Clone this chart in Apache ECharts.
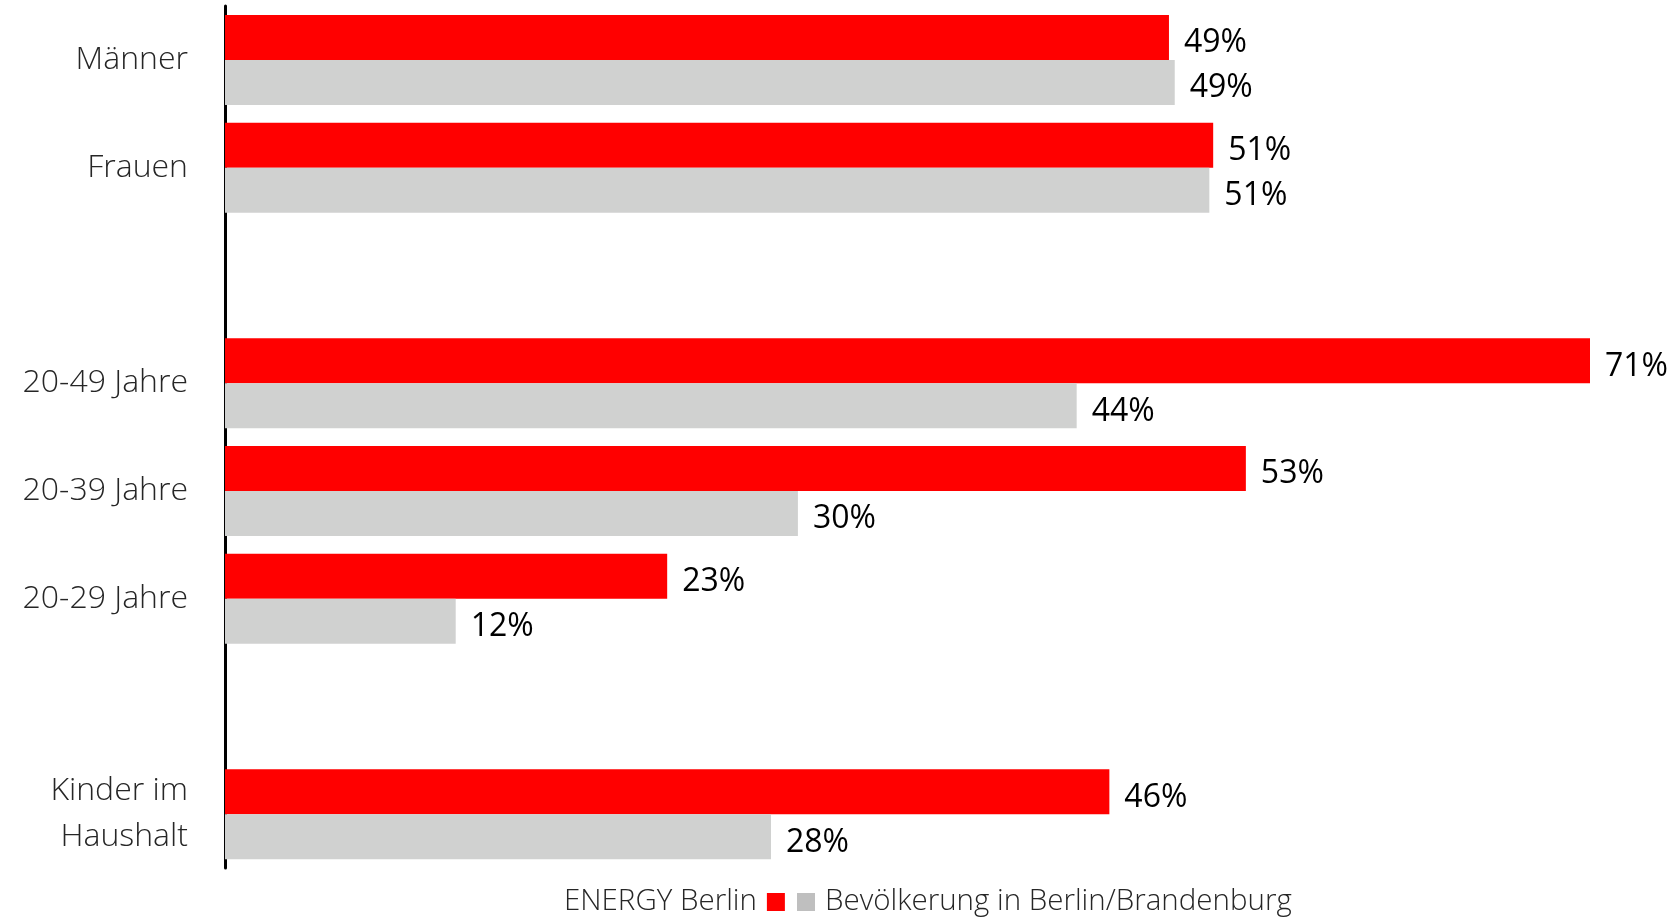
<!DOCTYPE html>
<html>
<head>
<meta charset="utf-8">
<script src="https://cdn.jsdelivr.net/npm/echarts@6/dist/echarts.min.js"></script>
<style>
  html, body { margin: 0; padding: 0; background: #fff; }
  #chart { width: 1670px; height: 918px; }
</style>
</head>
<body>
<div id="chart"></div>
<script>
// Kategorien (leere Einträge = Abstand zwischen Gruppen)
const categories = ['Männer', 'Frauen', '', '20-49 Jahre', '20-39 Jahre', '20-29 Jahre', '', 'Kinder im\nHaushalt'];
const energyBerlin = [49.1, 51.4, null, 71, 53.1, 23, null, 46];
const bevoelkerung = [49.4, 51.2, null, 44.3, 29.8, 12, null, 28.4];

const nameEnergy = 'ENERGY Berlin';
const nameBevoelkerung = 'Bevölkerung in Berlin/Brandenburg';

const fontFamily = '"Open Sans", "Noto Sans", sans-serif';

const chart = echarts.init(document.getElementById('chart'));

const valueLabel = {
  show: true,
  position: 'right',
  distance: 15,
  offset: [0, 6],
  formatter: p => Math.round(p.value) + '%',
  color: '#000',
  fontSize: 32,
  fontFamily: fontFamily
};

const legendText = { fontSize: 29.5, color: '#262626', fontFamily: fontFamily, fontWeight: 300 };

const option = {
  animation: false,
  grid: {
    left: 225,
    right: 80,
    top: 6,
    bottom: 50
  },
  legend: [
    {
      data: [{ name: nameEnergy, itemStyle: { color: '#ff0000' } }],
      left: 559,
      top: 882,
      align: 'right',
      itemWidth: 18,
      itemHeight: 18,
      icon: 'rect',
      selectedMode: false,
      textStyle: Object.assign({ padding: [0, 5, 0, 0] }, legendText)
    },
    {
      data: [{ name: nameBevoelkerung, itemStyle: { color: '#bfbfbf' } }],
      left: 792,
      top: 882,
      align: 'left',
      itemWidth: 18,
      itemHeight: 18,
      icon: 'rect',
      selectedMode: false,
      textStyle: Object.assign({ padding: [0, 0, 0, 5] }, legendText)
    }
  ],
  xAxis: {
    type: 'value',
    min: 0,
    max: 71,
    show: false
  },
  yAxis: {
    type: 'category',
    inverse: true,
    data: categories,
    axisLine: { show: true, lineStyle: { color: '#000', width: 3 } },
    axisTick: { show: false },
    axisLabel: {
      margin: 37,
      fontSize: 32,
      lineHeight: 46,
      color: '#262626',
      fontFamily: fontFamily,
      fontWeight: 300,
      align: 'right'
    }
  },
  series: [
    {
      name: nameEnergy,
      type: 'bar',
      data: energyBerlin,
      barWidth: 45,
      barGap: '0%',
      itemStyle: { color: '#ff0000' },
      label: valueLabel
    },
    {
      name: nameBevoelkerung,
      type: 'bar',
      data: bevoelkerung,
      barWidth: 45,
      barGap: '0%',
      itemStyle: { color: '#d0d1d0' },
      label: valueLabel
    }
  ]
};

chart.setOption(option);
</script>
</body>
</html>
